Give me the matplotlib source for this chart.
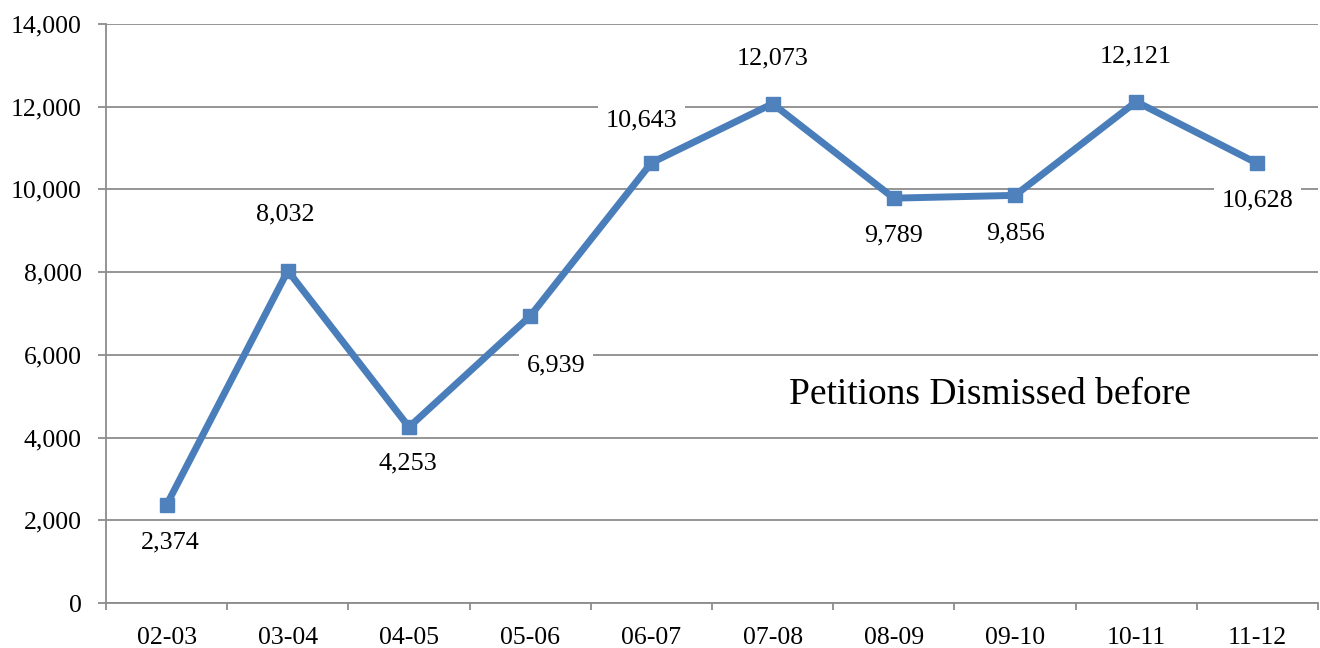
import matplotlib
matplotlib.use("Agg")
import matplotlib.pyplot as plt
from matplotlib.ticker import FuncFormatter, MultipleLocator, FixedLocator

years = ["02-03", "03-04", "04-05", "05-06", "06-07", "07-08", "08-09", "09-10", "10-11", "11-12"]
dismissed = [2374, 8032, 4253, 6939, 10643, 12073, 9789, 9856, 12121, 10628]
# label offsets (pixels) relative to each point
label_dx = [4, -2, -1, 26, -10, 0, 0, 0, 0, 0]
label_dy = [-38, 56, -36, -49, 42, 45, -37, -38, 45, -37]

plt.rcParams["font.family"] = ["Liberation Serif", "DejaVu Serif"]

fig = plt.figure(figsize=(13.2, 6.48), dpi=100)
ax = fig.add_axes([0.0803, 0.0694, 0.9182, 0.8936])

x = list(range(len(years)))
line_color = "#4a7ebb"
ax.plot(x, dismissed, color=line_color, lw=5, marker="s", ms=10,
        markerfacecolor="#4f81bd", markeredgecolor="#4f81bd", zorder=3)

for xi, v, dx, dy in zip(x, dismissed, label_dx, label_dy):
    ax.annotate(f"{v:,}", (xi, v), xytext=(dx, dy), textcoords="offset pixels",
                ha="center", va="center", fontsize=18.8, color="black", zorder=4,
                bbox=dict(boxstyle="square,pad=0.3", fc="white", ec="none"))

ax.text(0.729, 0.359, "Petitions Dismissed before", transform=ax.transAxes,
        fontsize=27, ha="center", va="center", zorder=5)

ax.set_xlim(-0.5, len(years) - 0.5)
ax.set_ylim(0, 14000)
ax.yaxis.set_major_locator(MultipleLocator(2000))
ax.yaxis.set_major_formatter(FuncFormatter(lambda v, p: f"{int(v):,}"))
ax.grid(axis="y", color="#8c8c8c", lw=1.3, zorder=1)

ax.set_xticks(x)
ax.set_xticklabels(years)
ax.xaxis.set_minor_locator(FixedLocator([i - 0.5 for i in range(len(years) + 1)]))
ax.tick_params(axis="x", which="major", length=0, pad=17.5, labelsize=18.5)
ax.tick_params(axis="x", which="minor", length=5, width=1.3, color="#8c8c8c", direction="out")
ax.tick_params(axis="y", length=5.8, width=1.3, color="#8c8c8c", labelsize=18.5, pad=11.5)

for side in ["top", "right"]:
    ax.spines[side].set_visible(False)
for side in ["left", "bottom"]:
    ax.spines[side].set_color("#8c8c8c")
    ax.spines[side].set_linewidth(1.3)

fig.savefig("out.png", dpi=100)
